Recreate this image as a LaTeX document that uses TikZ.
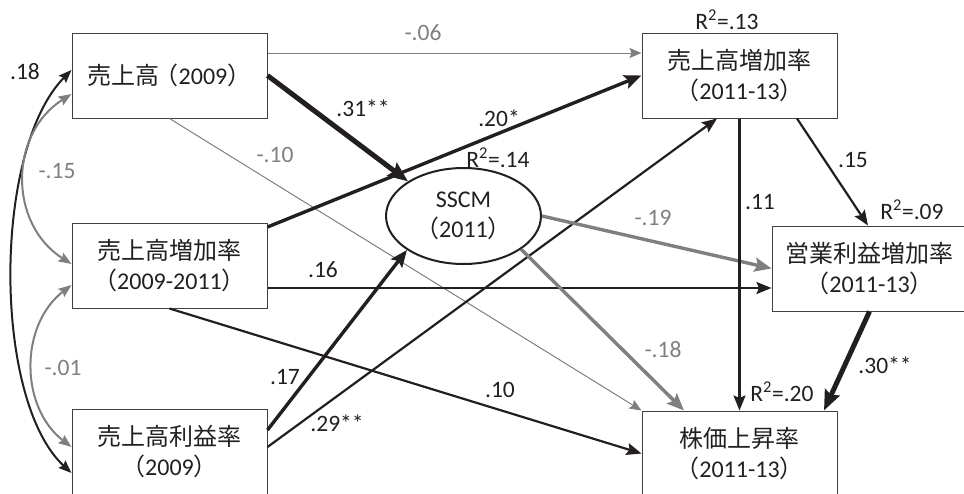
\documentclass[tikz,border=0pt]{standalone}
\usepackage{fontspec}
\setmainfont{Carlito}
\newfontfamily\jpf{Noto Sans CJK JP}
\usetikzlibrary{arrows.meta,shapes.geometric}
\definecolor{ink}{HTML}{231F20}
\definecolor{gr}{HTML}{7F7F7F}
\definecolor{edgec}{HTML}{404040}
\newcommand\jt[1]{{\jpf #1}}
\begin{document}
\begin{tikzpicture}[x=1pt,y=-1pt,
  box/.style={draw=edgec, line width=1pt, minimum width=195pt, minimum height=85pt, inner sep=0pt, align=center, text=ink, font=\fontsize{24}{30}\selectfont},
  lab/.style={text=ink, font=\fontsize{23.5}{28}\selectfont, inner sep=0pt},
  glab/.style={lab, text=gr},
  thinG/.style={draw=gr, line width=1pt, -{Stealth[length=12pt,width=10pt,inset=2pt]}},
  med/.style={draw=ink, line width=2.2pt, -{Stealth[length=15pt,width=12pt,inset=2.5pt]}},
  thk/.style={draw=ink, line width=3.4pt, -{Stealth[length=17pt,width=14pt,inset=3pt]}},
  thkG/.style={draw=gr, line width=3.4pt, -{Stealth[length=17pt,width=14pt,inset=3pt]}},
  vthk/.style={draw=ink, line width=5pt, -{Stealth[length=20pt,width=16pt,inset=3pt]}},
  cov/.style={line width=2pt, {Stealth[length=13pt,width=10pt,inset=2pt]}-{Stealth[length=13pt,width=10pt,inset=2pt]}},
]
\useasboundingbox (0,0) rectangle (964,493);
\clip (0,0) rectangle (964,493);

% boxes
\node[box] (b1) at (169.5,75.5) {\jt{売上高}\kern-5pt\jt{（}2009\jt{）}};
\node[box] (b2) at (169.5,265.5) {\jt{売上高増加率}\\\jt{（}2009-2011\jt{）}};
\node[box] (b3) at (169.5,451.5) {\jt{売上高利益率}\\\jt{（}2009\jt{）}};
\node[box] (b4) at (739.5,75.5) {\jt{売上高増加率}\\\jt{（}2011-13\jt{）}};
\node[box] (b5) at (869.5,268.5) {\jt{営業利益増加率}\\\jt{（}2011-13\jt{）}};
\node[box] (b6) at (739.5,453.5) {\jt{株価上昇率}\\\jt{（}2011-13\jt{）}};
\node[ellipse, draw=ink, line width=2pt, minimum width=155pt, minimum height=96pt, inner sep=0pt, align=center, text=ink, font=\fontsize{24}{30}\selectfont] (s) at (463.5,216) {SSCM\\\jt{（}2011\jt{）}};

% paths
\draw[thinG] ([yshift=22.5pt]b1.east) -- ([yshift=22.5pt]b4.west);
\draw[vthk] (b1.east) -- (s.148);
\draw[thinG] (b1.south) -- (b6.north west);
\draw[thk] ([yshift=38.5pt]b2.east) -- (b4.west);
\draw[med] ([yshift=-22.5pt]b2.east) -- ([yshift=-19.5pt]b5.west);
\draw[med] (b2.south) -- (b6.west);
\draw[thk] ([yshift=21.5pt]b3.east) -- (s.211);
\draw[med] ([yshift=4.5pt]b3.east) -- ([xshift=-22.5pt]b4.south);
\draw[thkG] (s.east) -- (b5.west);
\draw[thkG] (s.330) -- ([xshift=-55.5pt]b6.north);
\draw[med] (b4.south) -- (b6.north);
\draw[med] ([xshift=57.5pt]b4.south) -- ([xshift=-1.5pt]b5.north);
\draw[vthk] (b5.south) -- ([xshift=84.5pt]b6.north);

% covariances
\draw[cov, draw=ink] ([yshift=5.5pt]b1.west) .. controls +(-79,80) and +(-79,-73) .. ([yshift=-21.5pt]b3.west);
\draw[cov, draw=gr] ([yshift=-18.5pt]b1.west) .. controls +(-63,40) and +(-63,-40) .. ([yshift=1.5pt]b2.west);
\draw[cov, draw=gr] ([yshift=-19.5pt]b2.west) .. controls +(-52,40) and +(-52,-40) .. ([yshift=4.5pt]b3.west);

% labels
\node[glab] (l06) at (423,33) {-.06};
\node[lab] (l31) at (363,108) {.31**};
\node[glab] (l10a) at (275,155) {-.10};
\node[lab] (l20) at (499,118) {.20*};
\node[lab] (l16) at (323,270) {.16};
\node[lab] (l10b) at (500,390) {.10};
\node[lab] (l17) at (285,377) {.17};
\node[lab] (l29) at (337,423) {.29**};
\node[glab] (l19) at (653,218) {-.19};
\node[glab] (l18) at (663,350) {-.18};
\node[lab] (l11) at (760,202) {.11};
\node[lab] (l15) at (853,160) {.15};
\node[lab] (l30) at (885,365) {.30**};
\node[lab] (r13) at (727,20) {R\textsuperscript{2}=.13};
\node[lab] (r14) at (498,158) {R\textsuperscript{2}=.14};
\node[lab] (r09) at (912,210) {R\textsuperscript{2}=.09};
\node[lab] (r20) at (782,392) {R\textsuperscript{2}=.20};
\node[lab] (l18c) at (25,72) {.18};
\node[glab] (l15c) at (57,171) {-.15};
\node[glab] (l01c) at (63,368) {-.01};
\end{tikzpicture}
\end{document}
